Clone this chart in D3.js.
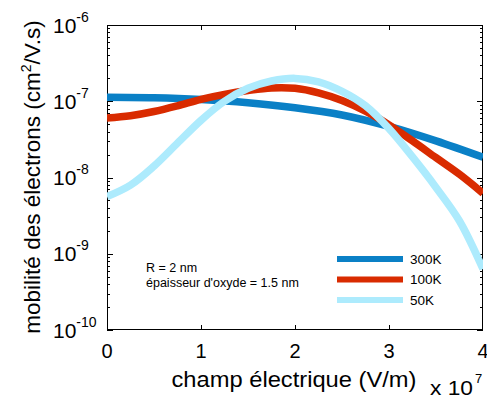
<!DOCTYPE html>
<html><head><meta charset="utf-8">
<script src="https://cdn.jsdelivr.net/npm/d3@7"></script>
<style>body{margin:0;background:#fff}svg{display:block;font-family:"Liberation Sans",Arial,sans-serif}</style>
</head><body><svg id="c" width="487" height="401"></svg>
<script>
// field in units of 1e7 V/m
const x300 = [0, 0.5, 1, 1.5, 2, 2.5, 3, 3.5, 4];
const mu300 = [1.127e-7, 1.109e-7, 1.052e-7, 9.55e-8, 8.22e-8, 6.61e-8, 4.68e-8, 3.02e-8, 1.84e-8];
const x100 = [0, 0.25, 0.5, 0.75, 1, 1.25, 1.5, 1.75, 2, 2.25, 2.5, 2.75, 3, 3.25, 3.5, 3.75, 4];
const mu100 = [6.03e-8, 6.46e-8, 7.33e-8, 8.71e-8, 1.059e-7, 1.23e-7, 1.38e-7, 1.496e-7, 1.479e-7, 1.288e-7, 1.023e-7, 7.41e-8, 4.9e-8, 3.02e-8, 1.82e-8, 1.1e-8, 6.21e-9];
const x50 = [0, 0.25, 0.5, 0.75, 1, 1.25, 1.5, 1.75, 2, 2.25, 2.5, 2.75, 3, 3.25, 3.5, 3.75, 4];
const mu50 = [5.62e-9, 7.94e-9, 1.41e-8, 2.82e-8, 5.62e-8, 1.0e-7, 1.479e-7, 1.841e-7, 1.995e-7, 1.799e-7, 1.349e-7, 8.71e-8, 4.37e-8, 1.86e-8, 7.41e-9, 2.69e-9, 6.3e-10];
const seriesNames = ["300K", "100K", "50K"];
const seriesColors = ["#0a80c6", "#d92b00", "#adebfd"];
const xTicks = [0, 1, 2, 3, 4];
const yExponents = [-6, -7, -8, -9, -10];
const annotation = ["R = 2 nm", "épaisseur d'oxyde = 1.5 nm"];

const svg = d3.select("#c");
const L = 107, R = 483, T = 25, B = 330;
const x = d3.scaleLinear().domain([0, 4]).range([L, R]);
const y = d3.scaleLog().domain([1e-10, 1e-6]).range([B, T]);

// axes box
const g = svg.append("g");
g.append("rect").attr("x", L + 0.5).attr("y", T + 0.5).attr("width", R - L - 1).attr("height", B - T - 1)
  .attr("fill", "none").attr("stroke", "#000").attr("stroke-width", 1);

// x ticks (inward, top and bottom)
xTicks.slice(1, -1).forEach(t => {
  const px = Math.round(x(t)) + 0.5;
  g.append("line").attr("x1", px).attr("x2", px).attr("y1", B).attr("y2", B - 5).attr("stroke", "#000");
  g.append("line").attr("x1", px).attr("x2", px).attr("y1", T).attr("y2", T + 5).attr("stroke", "#000");
});
// y ticks: majors and minors
const yt = [];
for (let e = -10; e < -6; e++) for (let m = 1; m < 10; m++) yt.push([m * Math.pow(10, e), m === 1]);
yt.forEach(([v, major]) => {
  const py = Math.round(y(v)) + 0.5;
  const len = major ? 6 : 3;
  g.append("line").attr("x1", L).attr("x2", L + len).attr("y1", py).attr("y2", py).attr("stroke", "#000");
  g.append("line").attr("x1", R).attr("x2", R - len).attr("y1", py).attr("y2", py).attr("stroke", "#000");
});

// lines
const data = [[x300, mu300], [x100, mu100], [x50, mu50]];
const line = d3.line().x(d => x(d[0])).y(d => y(d[1])).curve(d3.curveCatmullRom.alpha(0.5));
svg.append("clipPath").attr("id", "pc").append("rect").attr("x", L).attr("y", T).attr("width", R - L).attr("height", B - T);
data.forEach((s, i) => {
  const pts = s[0].map((v, j) => [v, s[1][j]]);
  svg.append("path").attr("d", line(pts)).attr("fill", "none").attr("stroke", seriesColors[i])
    .attr("stroke-width", 7.5).attr("clip-path", "url(#pc)");
});

// x tick labels
xTicks.forEach(t => {
  svg.append("text").attr("x", x(t)).attr("y", 358).attr("text-anchor", "middle")
    .attr("font-size", 20).text(t);
});
// y tick labels
yExponents.forEach(e => {
  const t = svg.append("text").attr("x", 53).attr("y", y(Math.pow(10, e)) + 7.5).attr("font-size", 21);
  t.append("tspan").text("10");
  t.append("tspan").attr("dy", -11).attr("font-size", 14).text("-" + Math.abs(e));
});

// x title
svg.append("text").attr("x", 294).attr("y", 387).attr("text-anchor", "middle").attr("font-size", 22)
  .attr("textLength", 245).attr("lengthAdjust", "spacingAndGlyphs")
  .text("champ électrique (V/m)");
const xm = svg.append("text").attr("x", 430).attr("y", 395).attr("font-size", 20);
xm.append("tspan").attr("textLength", 43).attr("lengthAdjust", "spacingAndGlyphs").text("x 10");
xm.append("tspan").attr("x", 475).attr("dy", -12).attr("font-size", 13).text("7");

// y title
const yl = svg.append("text").attr("transform", "translate(40,177) rotate(-90)").attr("text-anchor", "middle").attr("font-size", 22.5);
yl.append("tspan").text("mobilité des électrons (cm");
yl.append("tspan").attr("dy", -9).attr("font-size", 14).text("2");
yl.append("tspan").attr("dy", 9).text("/V.s)");

// annotation
annotation.forEach((s, i) => {
  svg.append("text").attr("x", 146).attr("y", 272 + i * 15).attr("font-size", 12.5).text(s);
});

// legend
seriesNames.forEach((n, i) => {
  const ly = 259 + i * 20.5;
  svg.append("line").attr("x1", 337).attr("x2", 403).attr("y1", ly).attr("y2", ly)
    .attr("stroke", seriesColors[i]).attr("stroke-width", 6);
  svg.append("text").attr("x", 410).attr("y", ly + 4.5).attr("font-size", 13.5).text(n);
});
</script></body></html>
